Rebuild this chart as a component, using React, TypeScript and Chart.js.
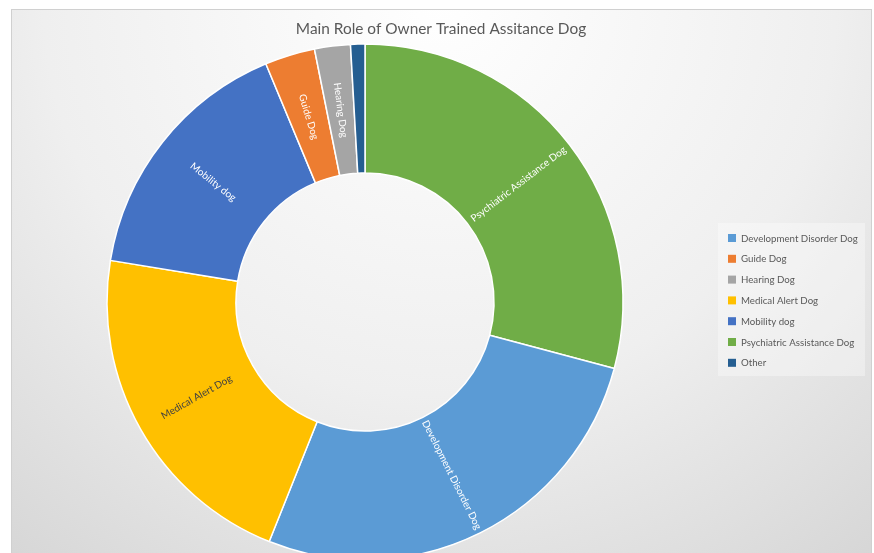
import React, { useEffect, useRef } from "react";
import { Chart, registerables } from "chart.js";

Chart.register(...registerables);

const TITLE = "Main Role of Owner Trained Assitance Dog";
// slices in drawing order, clockwise from the top
const roles = [
  "Psychiatric Assistance Dog",
  "Development Disorder Dog",
  "Medical Alert Dog",
  "Mobility dog",
  "Guide Dog",
  "Hearing Dog",
  "Other",
];
const counts = [65, 60, 48, 36, 7, 5, 2];
const colors = ["#70AD47", "#5B9BD5", "#FFC000", "#4472C4", "#ED7D31", "#A5A5A5", "#255E91"];
const labelColors = ["#FFFFFF", "#FFFFFF", "#404040", "#FFFFFF", "#FFFFFF", "#FFFFFF", "#FFFFFF"];
const showLabel = [true, true, true, true, true, true, false];
// legend order as in the reference
const legendOrder = [
  "Development Disorder Dog",
  "Guide Dog",
  "Hearing Dog",
  "Medical Alert Dog",
  "Mobility dog",
  "Psychiatric Assistance Dog",
  "Other",
];

const FONT = "Lato, 'Open Sans', 'DejaVu Sans', sans-serif";

const backgroundPlugin = {
  id: "excelBackground",
  beforeDraw(chart: any) {
    const { ctx, width, height } = chart;
    ctx.save();
    ctx.fillStyle = "#FFFFFF";
    ctx.fillRect(0, 0, width, height);
    const fx = 11, fy = 9, fw = 860, fh = height + 20;
    const g = ctx.createRadialGradient(440, 0, 0, 440, 0, 720);
    g.addColorStop(0, "#FFFFFF");
    g.addColorStop(0.55, "#EFEFEF");
    g.addColorStop(1, "#D5D5D5");
    ctx.fillStyle = g;
    ctx.fillRect(fx, fy, fw, fh);
    ctx.strokeStyle = "#D0D0D0";
    ctx.lineWidth = 1;
    ctx.strokeRect(fx + 0.5, fy + 0.5, fw, fh);

    // title
    ctx.fillStyle = "#595959";
    ctx.font = `15.4px ${FONT}`;
    ctx.textAlign = "center";
    ctx.textBaseline = "middle";
    ctx.fillText(TITLE, 441, 29);

    // legend box
    ctx.fillStyle = "rgba(255,255,255,0.35)";
    ctx.fillRect(718, 223, 147, 153);
    ctx.font = `9.7px ${FONT}`;
    ctx.textAlign = "left";
    legendOrder.forEach((name, i) => {
      const idx = roles.indexOf(name);
      const y = 238 + i * 20.8;
      ctx.fillStyle = colors[idx];
      ctx.fillRect(728, y - 4, 8, 8);
      ctx.fillStyle = "#595959";
      ctx.fillText(name, 741, y + 0.5);
    });
    ctx.restore();
  },
};

const sliceLabelPlugin = {
  id: "sliceLabels",
  afterDatasetsDraw(chart: any) {
    const { ctx } = chart;
    const meta = chart.getDatasetMeta(0);
    ctx.save();
    ctx.font = `10px ${FONT}`;
    ctx.textAlign = "center";
    ctx.textBaseline = "middle";
    meta.data.forEach((arc: any, i: number) => {
      if (!showLabel[i]) return;
      const p = arc.getProps(["x", "y", "startAngle", "endAngle", "innerRadius", "outerRadius"], true);
      const mid = (p.startAngle + p.endAngle) / 2;
      const r = (p.innerRadius + p.outerRadius) / 2;
      const x = p.x + Math.cos(mid) * r;
      const y = p.y + Math.sin(mid) * r;
      let rot = mid;
      if (Math.cos(mid) < 0) rot += Math.PI;
      ctx.save();
      ctx.translate(x, y);
      ctx.rotate(rot);
      ctx.fillStyle = labelColors[i];
      ctx.fillText(roles[i], 0, 0);
      ctx.restore();
    });
    ctx.restore();
  },
};

export default function App() {
  const ref = useRef<HTMLCanvasElement | null>(null);
  useEffect(() => {
    if (!ref.current) return;
    const chart = new Chart(ref.current, {
      type: "doughnut",
      data: {
        labels: roles,
        datasets: [
          {
            data: counts,
            backgroundColor: colors,
            borderColor: "#FFFFFF",
            borderWidth: 1.5,
            clip: false,
          } as any,
        ],
      },
      options: {
        responsive: false,
        animation: false,
        radius: 258,
        cutout: "50%",
        rotation: 0,
        layout: { padding: { left: 105, right: 249, top: 51, bottom: 0 } },
        plugins: {
          legend: { display: false },
          title: { display: false },
          tooltip: { enabled: false },
        },
        events: [],
      } as any,
      plugins: [backgroundPlugin, sliceLabelPlugin],
    });
    return () => chart.destroy();
  }, []);
  return (
    <div style={{ position: "fixed", left: 0, top: 0, width: 874, height: 553, overflow: "hidden" }}>
      <canvas ref={ref} width={874} height={553} style={{ display: "block" }} />
    </div>
  );
}
